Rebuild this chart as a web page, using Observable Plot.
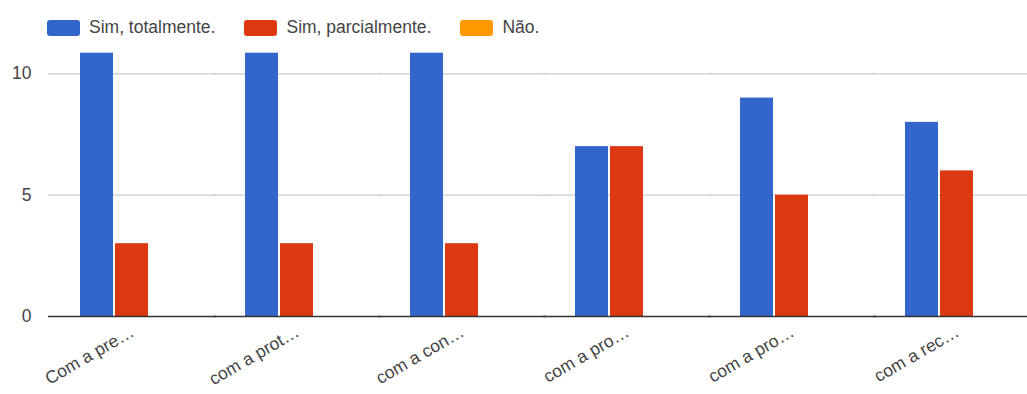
<!DOCTYPE html>
<html>
<head>
<meta charset="utf-8">
<script src="https://cdn.jsdelivr.net/npm/d3@7"></script>
<script src="https://cdn.jsdelivr.net/npm/@observablehq/plot@0.6"></script>
<style>
  html, body { margin: 0; padding: 0; background: #fff; }
  #wrap { position: relative; width: 1027px; height: 394px; overflow: hidden; font-family: "Liberation Sans", Arial, sans-serif; }
  #legend { position: absolute; left: 47px; top: 17px; display: flex; align-items: center; font-size: 17.5px; color: #444; z-index: 2; }
  .item { display: flex; align-items: center; margin-right: 29px; }
  .sw { width: 33px; height: 16px; border-radius: 3px; margin-right: 9px; }
  #chart svg { display: block; }
</style>
</head>
<body>
<div id="wrap">
  <div id="legend"></div>
  <div id="chart"></div>
</div>
<script>
const categories = ["Com a pre…", "com a prot…", "com a con…", "com a pro…", "com a pro…", "com a rec…"];
const series = ["Sim, totalmente.", "Sim, parcialmente.", "Não."];
const totalmente = [11, 11, 11, 7, 9, 8];
const parcialmente = [3, 3, 3, 7, 5, 6];
const nao = [0, 0, 0, 0, 0, 0];
const colors = ["#3366cc", "#dc3912", "#ff9900"];
const yTicks = [0, 5, 10];

const values = [totalmente, parcialmente, nao];
const data = categories.flatMap((c, i) => series.map((s, j) => ({cat: i, s, v: values[j][i]})));

const legend = document.getElementById("legend");
series.forEach((s, j) => {
  const it = document.createElement("div");
  it.className = "item";
  const sw = document.createElement("div");
  sw.className = "sw";
  sw.style.background = colors[j];
  const t = document.createElement("span");
  t.textContent = s;
  it.appendChild(sw); it.appendChild(t);
  legend.appendChild(it);
});

// rules are drawn per facet and stretched across the gaps between facets
const stretch = {insetLeft: -31, insetRight: -31};

const chart = Plot.plot({
  width: 1027,
  height: 394,
  marginLeft: 47,
  marginRight: 0,
  marginTop: 52.7,
  marginBottom: 78,
  style: {fontFamily: '"Liberation Sans", Arial, sans-serif', fontSize: "17.5px", color: "#444", background: "#fff", overflow: "hidden"},
  fx: {domain: d3.range(categories.length), range: [78, 1010.5], paddingInner: 0.359, paddingOuter: 0,
       tickFormat: i => categories[i], tickRotate: -30, tickSize: 0, tickPadding: 14, label: null},
  x: {domain: series, paddingInner: 0.05, paddingOuter: 0, axis: null},
  y: {domain: [0, 10.85], clamp: true, ticks: yTicks, tickSize: 0, tickPadding: 48, label: null},
  color: {domain: series, range: colors},
  marks: [
    Plot.ruleY([5, 10], {stroke: "#cccccc", strokeWidth: 1.2, ...stretch}),
    Plot.barY(data, {fx: "cat", x: "s", y: "v", fill: "s"}),
    Plot.ruleY([0], {stroke: "#333", strokeWidth: 1.5, ...stretch})
  ]
});
document.getElementById("chart").appendChild(chart);
</script>
</body>
</html>
